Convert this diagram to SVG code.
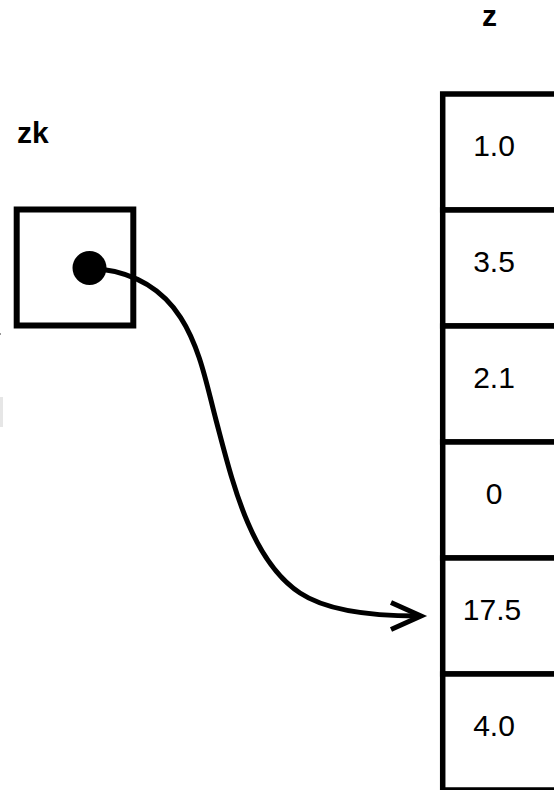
<svg xmlns="http://www.w3.org/2000/svg" width="554" height="790" viewBox="0 0 554 790">
  <style>
    .label { font-family: "Liberation Sans", Arial, Helvetica, sans-serif; font-size: 30px; font-weight: bold; fill: #000; }
    .val { font-family: "Liberation Sans", Arial, Helvetica, sans-serif; font-size: 30px; fill: #000; text-anchor: middle; }
    .cell { fill: #fff; stroke: #000; stroke-width: 5.5; }
    .box { fill: #fff; stroke: #000; stroke-width: 6; }
    .wire { fill: none; stroke: #000; stroke-width: 5; }
  </style>
  <rect width="554" height="790" fill="#fff"/>

  <!-- edge marks -->
  <rect x="0" y="397" width="3" height="30" fill="#e6e6e6"/>
  <rect x="0" y="333" width="1" height="2" fill="#999"/>

  <!-- pointer variable zk -->
  <g id="zk">
    <text class="label" x="17" y="143">zk</text>
    <rect class="box" x="16.7" y="209.5" width="116.6" height="116"/>
    <circle cx="89.5" cy="268" r="17" fill="#000"/>
  </g>

  <!-- array z -->
  <g id="z">
    <text class="label" x="489.5" y="26" text-anchor="middle">z</text>
    <g id="z0"><rect class="cell" x="442.7" y="94" width="116" height="116"/><text class="val" x="494" y="155.5">1.0</text></g>
    <g id="z1"><rect class="cell" x="442.7" y="210" width="116" height="116"/><text class="val" x="494" y="271.5">3.5</text></g>
    <g id="z2"><rect class="cell" x="442.7" y="326" width="116" height="116"/><text class="val" x="494" y="387.5">2.1</text></g>
    <g id="z3"><rect class="cell" x="442.7" y="442" width="116" height="116"/><text class="val" x="494" y="503.5">0</text></g>
    <g id="z4"><rect class="cell" x="442.7" y="558" width="116" height="116"/><text class="val" x="492" y="619.5">17.5</text></g>
    <g id="z5"><rect class="cell" x="442.7" y="674" width="116" height="116"/><text class="val" x="494" y="735.5">4.0</text></g>
  </g>

  <!-- pointer from zk into z[4] -->
  <g id="connectors">
    <path class="wire" d="M 100 269 C 190 280, 200 360, 216 420 C 232 480, 250 560, 300 593 C 330 613, 380 616, 418 616"/>
    <polyline class="wire" points="391,602.5 421,616 391,629.5" stroke-width="5.5" stroke-miterlimit="10"/>
  </g>
</svg>
